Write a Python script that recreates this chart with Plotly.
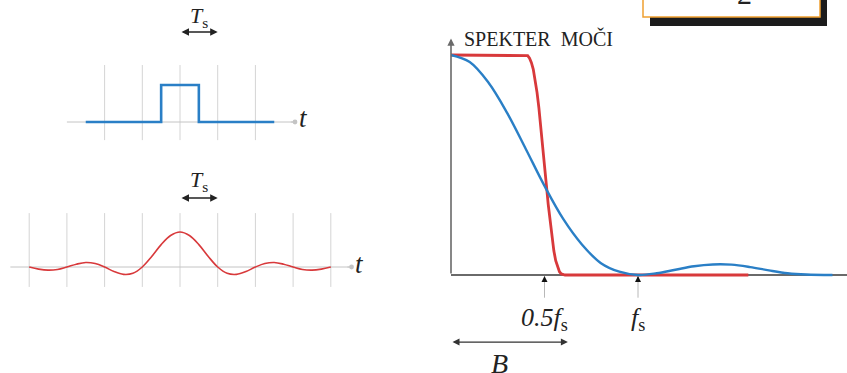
import plotly.graph_objects as go

W, H = 847, 373

# ---------------- data ----------------
# top-left: rectangular pulse (time in units of Ts)
pulse_t = [-2.5, -0.5, -0.5, 0.5, 0.5, 2.5]
pulse_v = [0, 0, 1, 1, 0, 0]
grid_top = [-2, -1, 0, 1, 2]

# bottom-left: sinc-like pulse
sinc_t = [-4, -3.75, -3.5, -3.25, -3, -2.75, -2.5, -2.25, -2, -1.75, -1.5, -1.25, -1,
          -0.75, -0.5, -0.25, 0, 0.25, 0.5, 0.75, 1, 1.25, 1.5, 1.75, 2, 2.25, 2.5,
          2.75, 3, 3.25, 3.5, 3.75, 4]
sinc_v = [0, -0.06, -0.09, -0.07, 0, 0.08, 0.13, 0.1, 0, -0.13, -0.21, -0.18, 0,
          0.3, 0.64, 0.9, 1, 0.9, 0.64, 0.3, 0, -0.18, -0.21, -0.13, 0, 0.1, 0.13,
          0.08, 0, -0.07, -0.09, -0.06, 0]
grid_bot = [-4, -3, -2, -1, 0, 1, 2, 3, 4]

# right: power spectra (frequency in units of fs)
blue_f = [0, 0.1, 0.2, 0.3, 0.4, 0.5, 0.6, 0.7, 0.8, 0.9, 1.0, 1.1, 1.2, 1.3, 1.4,
          1.5, 1.6, 1.7, 1.8, 1.9, 2.04]
blue_p = [1, 0.968, 0.875, 0.737, 0.573, 0.405, 0.255, 0.139, 0.055, 0.015, 0,
          0.008, 0.024, 0.04, 0.048, 0.047, 0.036, 0.021, 0.008, 0.002, 0]
red_f = [0, 0.40, 0.41, 0.42, 0.43, 0.44, 0.45, 0.46, 0.47, 0.48, 0.49, 0.50, 0.51,
         0.52, 0.53, 0.54, 0.55, 0.56, 0.57, 0.58, 0.59, 0.60, 0.61, 1.59]
red_p = [1, 1, 0.997, 0.985, 0.965, 0.935, 0.89, 0.83, 0.76, 0.68, 0.59, 0.5, 0.41,
         0.32, 0.24, 0.17, 0.11, 0.065, 0.035, 0.015, 0.005, 0.001, 0, 0]

tick_f = [0.5, 1.0]
tick_labels = ["<i>0.5f</i><sub>s</sub>", "<i>f</i><sub>s</sub>"]
B_edge = 0.625

BLUE = "#2a7fc6"
RED = "#d8393b"
GRID = "#d4d4d4"
AX_L = "#c4c4c4"
AX_R = "#6a6a6a"
SERIF = "Liberation Serif"

# ---------------- geometry helpers ----------------
def xr(p0, p1, x0px, unit):
    return [(p0 - x0px) / unit, (p1 - x0px) / unit]

def yr(top_px, bot_px, base_px, unit):
    return [(base_px - bot_px) / unit, (base_px - top_px) / unit]

fig = go.Figure()

# panel A
fig.add_trace(go.Scatter(x=pulse_t, y=pulse_v, mode="lines",
                         line=dict(color=BLUE, width=2.6), xaxis="x", yaxis="y",
                         hoverinfo="skip"))
# panel B
fig.add_trace(go.Scatter(x=sinc_t, y=sinc_v, mode="lines", line_shape="spline",
                         line=dict(color=RED, width=1.6), xaxis="x2", yaxis="y2",
                         hoverinfo="skip"))
# panel C
fig.add_trace(go.Scatter(x=red_f, y=red_p, mode="lines",
                         line=dict(color=RED, width=2.8), xaxis="x3", yaxis="y3",
                         hoverinfo="skip"))
fig.add_trace(go.Scatter(x=blue_f, y=blue_p, mode="lines", line_shape="spline",
                         line=dict(color=BLUE, width=2.4), xaxis="x3", yaxis="y3",
                         hoverinfo="skip"))

shapes = []
ann = []

# grid lines
for g in grid_top:
    shapes.append(dict(type="line", xref="x", yref="y", x0=g, x1=g, y0=-0.49, y1=1.54,
                       line=dict(color=GRID, width=1), layer="below"))
for g in grid_bot:
    shapes.append(dict(type="line", xref="x2", yref="y2", x0=g, x1=g, y0=-0.57, y1=1.54,
                       line=dict(color=GRID, width=1), layer="below"))

def arrow(xref, yref, x, y, ax, ay, color, width, head=2, side="end", size=1):
    ann.append(dict(xref=xref, yref=yref, axref=xref, ayref=yref, x=x, y=y, ax=ax, ay=ay,
                    showarrow=True, arrowhead=head, arrowsize=size, arrowwidth=width,
                    arrowcolor=color, arrowside=side, text=""))

# time axes (line below the traces, arrowhead on top)
shapes.append(dict(type="line", xref="x", yref="y", x0=-3.0, x1=3.0, y0=0, y1=0,
                   line=dict(color=AX_L, width=1), layer="below"))
arrow("x", "y", 3.05, 0, 2.9, 0, AX_L, 1, head=6, size=1.2)
shapes.append(dict(type="line", xref="x2", yref="y2", x0=-4.5, x1=4.5, y0=0, y1=0,
                   line=dict(color=AX_L, width=1), layer="below"))
arrow("x2", "y2", 4.55, 0, 4.4, 0, AX_L, 1, head=6, size=1.2)

def label(xref, yref, x, y, text, size, xanchor="center", yanchor="middle", color="#222"):
    ann.append(dict(xref=xref, yref=yref, x=x, y=y, text=text, showarrow=False,
                    xanchor=xanchor, yanchor=yanchor,
                    font=dict(family=SERIF, size=size, color=color)))

label("x", "y", 3.28, 0.1, "<i>t</i>", 27)
label("x2", "y2", 4.75, 0.08, "<i>t</i>", 27)

# Ts arrows
arrow("x", "y", 1.0, 2.43, 0.0, 2.43, "#222", 1.5, head=2, side="end+start")
label("x", "y", 0.5, 2.85, "<i>T</i><sub>s</sub>", 22)
arrow("x2", "y2", 1.0, 1.97, 0.0, 1.97, "#222", 1.5, head=2, side="end+start")
label("x2", "y2", 0.5, 2.45, "<i>T</i><sub>s</sub>", 22)

# right panel axes
shapes.append(dict(type="line", xref="x3", yref="y3", x0=0, x1=2.2, y0=0, y1=0,
                   line=dict(color=AX_R, width=2), layer="below"))
arrow("x3", "y3", 0, 1.075, 0, 0, AX_R, 1.6, head=2, size=0.9)
label("x3", "y3", 0.06, 1.075, "SPEKTER  MOČI", 20, xanchor="left", color="#222")

# frequency tick arrows and labels
for f, t in zip(tick_f, tick_labels):
    arrow("x3", "y3", f, -0.006, f, -0.11, "#b8b8b8", 1, head=0)
    arrow("x3", "y3", f, -0.004, f, -0.03, "#111", 1, head=2, size=1.2)
    label("x3", "y3", f, -0.2, t, 26)

# bandwidth arrow
arrow("x3", "y3", B_edge, -0.305, 0.0, -0.305, "#333", 1.4, head=2, side="end+start")
label("x3", "y3", 0.26, -0.40, "<i>B</i>", 28)

# top-right box
def px(x):
    return x / W

def py(y):
    return 1 - y / H

shapes.append(dict(type="rect", xref="paper", yref="paper", x0=px(650), x1=px(827),
                   y0=py(26), y1=py(-10), fillcolor="#1c1c1c", line=dict(width=0)))
shapes.append(dict(type="rect", xref="paper", yref="paper", x0=px(643), x1=px(820),
                   y0=py(17), y1=py(-10), fillcolor="white",
                   line=dict(color="#f0a030", width=1.5)))
ann.append(dict(xref="paper", yref="paper", x=px(744), y=py(12), text="2",
                showarrow=False, xanchor="center", yanchor="bottom",
                font=dict(family=SERIF, size=30, color="#222")))

ax_common = dict(visible=False, fixedrange=True, showgrid=False, zeroline=False)
fig.update_layout(
    width=W, height=H, margin=dict(l=0, r=0, t=0, b=0),
    paper_bgcolor="white", plot_bgcolor="rgba(0,0,0,0)", showlegend=False,
    xaxis=dict(domain=[0, 420 / W], range=xr(0, 420, 180, 37.7), **ax_common),
    yaxis=dict(domain=[1 - 150 / H, 1], range=yr(0, 150, 122, 37), **ax_common),
    xaxis2=dict(domain=[0, 420 / W], range=xr(0, 420, 180, 37.7), anchor="y2", **ax_common),
    yaxis2=dict(domain=[1 - 300 / H, 1 - 150 / H], range=yr(150, 300, 267, 35), anchor="x2", **ax_common),
    xaxis3=dict(domain=[420 / W, 1], range=xr(420, 847, 451, 187), anchor="y3", **ax_common),
    yaxis3=dict(domain=[0, 1], range=yr(0, 373, 275, 220), anchor="x3", **ax_common),
    shapes=shapes, annotations=ann,
)

fig.write_html("out.html", config={"displayModeBar": False},
               post_script="document.body.style.margin='0';document.body.style.overflow='hidden';")
